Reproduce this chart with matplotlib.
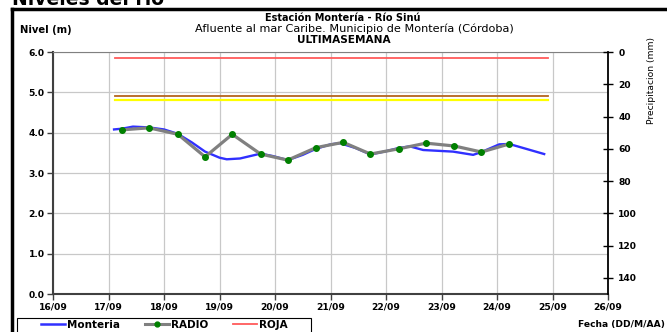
import matplotlib.pyplot as plt
from matplotlib.lines import Line2D
from matplotlib.patches import Rectangle

plt.rcParams["font.family"] = ["DejaVu Sans"]

# Fechas como dia del mes (septiembre)
dias = [16, 17, 18, 19, 20, 21, 22, 23, 24, 25, 26]
etiquetas_x = ["16/09", "17/09", "18/09", "19/09", "20/09", "21/09",
               "22/09", "23/09", "24/09", "25/09", "26/09"]

# Nivel estacion Monteria (m)
monteria_t = [17.10, 17.25, 17.44, 17.73, 18.00, 18.25, 18.50, 18.74, 19.00,
              19.13, 19.37, 19.74, 19.96, 20.23, 20.50, 20.74, 21.00, 21.17,
              21.45, 21.72, 22.00, 22.23, 22.43, 22.67, 23.21, 23.57, 23.72,
              24.04, 24.22, 24.85]
monteria_v = [4.08, 4.10, 4.15, 4.13, 4.08, 3.97, 3.76, 3.53, 3.38,
              3.34, 3.36, 3.48, 3.42, 3.32, 3.45, 3.60, 3.71, 3.74,
              3.62, 3.46, 3.54, 3.62, 3.66, 3.57, 3.53, 3.45, 3.52,
              3.71, 3.72, 3.47]

# Lecturas RADIO (m)
radio_t = [17.25, 17.73, 18.25, 18.74, 19.23, 19.74, 20.23, 20.74, 21.23,
           21.72, 22.23, 22.72, 23.23, 23.72, 24.22]
radio_v = [4.07, 4.12, 3.96, 3.40, 3.96, 3.47, 3.32, 3.63, 3.76,
           3.47, 3.60, 3.74, 3.67, 3.52, 3.72]

# Umbrales de alerta (m)
umbral_inicio, umbral_fin = 17.12, 24.92
roja = 5.85
naranja = 4.90
amarilla = 4.80

precip_ticks = [0, 20, 40, 60, 80, 100, 120, 140]

fig = plt.figure(figsize=(6.67, 3.32), dpi=100)
ax = fig.add_axes([53 / 667, 1 - 294 / 332, 555 / 667, 242 / 332])

ax.plot([umbral_inicio, umbral_fin], [roja, roja], color="#ff5a5a", lw=1.3)
ax.plot([umbral_inicio, umbral_fin], [naranja, naranja], color="#b5651d", lw=1.3)
ax.plot([umbral_inicio, umbral_fin], [amarilla, amarilla], color="#ffff00", lw=1.6)

ax.plot(monteria_t, monteria_v, color="#3030ff", lw=1.7, zorder=3)
ax.plot(radio_t, radio_v, color="#808080", lw=2.3, zorder=4)
ax.plot(radio_t, radio_v, "o", color="#008000", ms=4, zorder=5)

ax.set_xlim(16, 26)
ax.set_ylim(0, 6)
ax.set_xticks(dias)
ax.set_xticklabels(etiquetas_x)
ax.set_yticks([0, 1, 2, 3, 4, 5, 6])
ax.set_yticklabels([f"{v:.1f}" for v in [0, 1, 2, 3, 4, 5, 6]])
ax.grid(True, color="#c8c8c8", lw=0.9)
ax.set_axisbelow(True)
ax.tick_params(axis="both", labelsize=6.6, length=4, width=1, color="#404040", pad=2)
for lbl in ax.get_xticklabels() + ax.get_yticklabels():
    lbl.set_fontweight("bold")
for s in ["left", "bottom"]:
    ax.spines[s].set_color("#404040")
    ax.spines[s].set_linewidth(1.5)
ax.spines["top"].set_color("#808080")
ax.spines["top"].set_linewidth(0.8)
ax.spines["right"].set_visible(False)

ax2 = ax.twinx()
ax2.set_ylim(150, 0)
ax2.set_yticks(precip_ticks)
ax2.tick_params(axis="y", direction="inout", length=7, width=1, labelsize=6.6, pad=4)
for lbl in ax2.get_yticklabels():
    lbl.set_fontweight("bold")
for s in ["left", "top", "bottom"]:
    ax2.spines[s].set_visible(False)
ax2.spines["right"].set_linewidth(1.3)

# Titulos y etiquetas
fig.text(343 / 667, 1 - 18 / 332, "Estación Montería - Río Sinú",
         ha="center", va="center", fontsize=7, fontweight="bold")
fig.text(354 / 667, 1 - 29 / 332, "Afluente al mar Caribe. Municipio de Montería (Córdoba)",
         ha="center", va="center", fontsize=8.1)
fig.text(344 / 667, 1 - 40 / 332, "ULTIMASEMANA",
         ha="center", va="center", fontsize=7.6, fontweight="bold")
fig.text(20 / 667, 1 - 30 / 332, "Nivel (m)", ha="left", va="center",
         fontsize=7.2, fontweight="bold")
fig.text(651 / 667, 1 - 80 / 332, "Precipitacion (mm)", rotation=90,
         ha="center", va="center", fontsize=6.6)
fig.text(665 / 667, 1 - 325 / 332, "Fecha (DD/M/AA)", ha="right", va="center",
         fontsize=6.6, fontweight="bold")
fig.text(12 / 667, 1 - 5 / 332, "Niveles del río", ha="left", va="baseline",
         fontsize=13.5, fontweight="bold")

# Marco exterior
fig.add_artist(Line2D([12 / 667, 12 / 667], [0, 1 - 9 / 332],
                      transform=fig.transFigure, color="black", lw=2.5))
fig.add_artist(Line2D([12 / 667, 1], [1 - 9 / 332, 1 - 9 / 332],
                      transform=fig.transFigure, color="black", lw=2.5))

# Leyenda
fig.add_artist(Rectangle((17 / 667, -0.01), 294 / 667, 1 - 318 / 332 + 0.01,
                         transform=fig.transFigure, fill=False,
                         edgecolor="black", lw=0.8))
h1 = Line2D([], [], color="#3030ff", lw=1.8)
h2 = Line2D([], [], color="#808080", lw=2.2, marker="o", mfc="#008000",
            mec="#008000", ms=3.5)
h3 = Line2D([], [], color="#ff5a5a", lw=1.3)
fig.legend([h1, h2, h3], ["Monteria", "RADIO", "ROJA"], ncol=3,
           loc="center left", bbox_to_anchor=(41 / 667, 1 - 325 / 332),
           frameon=False, prop={"size": 7.5, "weight": "bold"},
           handlelength=2.3, columnspacing=2.4, borderpad=0,
           handletextpad=0.2, borderaxespad=0)

fig.savefig("out.png", dpi=100)
